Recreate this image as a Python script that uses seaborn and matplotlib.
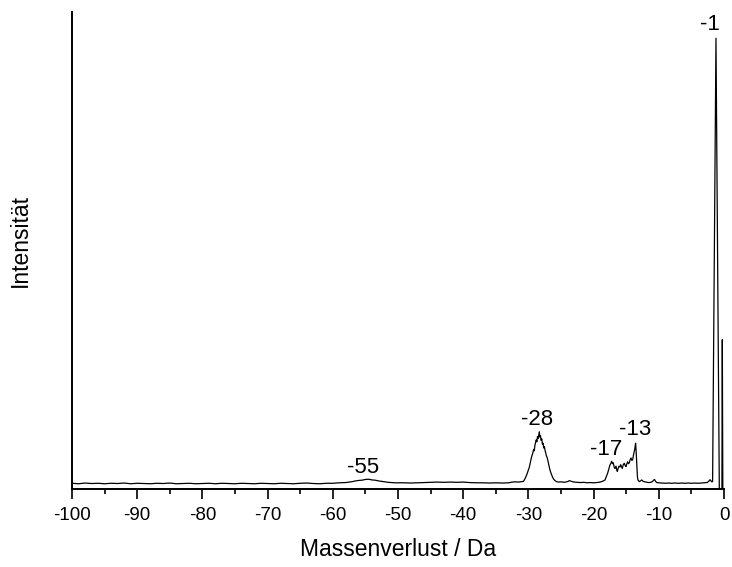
from matplotlib import pyplot as plt
from matplotlib.ticker import MultipleLocator
import pandas as pd
import seaborn as sns

# mass loss axis (Da) and intensity (arb. units)
mass_base1 = [-100, -99, -98, -97, -96, -95, -94, -93, -92, -91,
              -90, -89, -88, -87, -86, -85, -84, -83, -82, -81,
              -80, -79, -78, -77, -76, -75, -74, -73, -72, -71,
              -70, -69, -68, -67, -66, -65, -64, -63, -62, -61,
              -60, -59, -58]
int_base1 = [1.2, 1.1, 1.25, 1.15, 1.2, 1.1, 1.2, 1.15, 1.25, 1.1,
             1.2, 1.15, 1.1, 1.2, 1.15, 1.25, 1.1, 1.15, 1.2, 1.1,
             1.15, 1.2, 1.1, 1.2, 1.15, 1.1, 1.2, 1.15, 1.1, 1.2,
             1.15, 1.1, 1.2, 1.15, 1.1, 1.2, 1.25, 1.15, 1.1, 1.2,
             1.2, 1.3, 1.35]

mass_p55 = [-57.5, -57, -56.5, -56, -55.5, -55, -54.5, -54, -53.5, -53,
            -52.5, -52, -51.5, -51, -50.5, -50]
int_p55 = [1.45, 1.55, 1.7, 1.8, 1.85, 2.0, 2.05, 1.9, 1.85, 1.7,
           1.6, 1.5, 1.4, 1.35, 1.3, 1.3]

mass_base2 = [-49, -48, -47, -46, -45, -44, -43, -42, -41, -40,
              -39, -38, -37, -36, -35, -34, -33, -32.5, -32, -31.5, -31]
int_base2 = [1.3, 1.25, 1.3, 1.35, 1.4, 1.45, 1.4, 1.45, 1.4, 1.45,
             1.35, 1.3, 1.3, 1.25, 1.3, 1.25, 1.3, 1.45, 1.5, 1.45, 1.55]

mass_p28 = [-30.75, -30.5, -30.25, -30.0, -29.85, -29.7, -29.5, -29.35, -29.2, -29.1,
            -29.0, -28.9, -28.8, -28.7, -28.6, -28.5, -28.4, -28.33, -28.25, -28.15,
            -28.05, -27.95, -27.85, -27.75, -27.65, -27.55, -27.45, -27.35, -27.25, -27.1,
            -26.95, -26.8, -26.7, -26.5, -26.3, -26.1, -25.9, -25.7, -25.4, -25.0]
int_p28 = [1.6, 2.2, 3.0, 4.0, 4.6, 5.6, 6.8, 7.4, 8.3, 8.0,
           9.2, 9.8, 10.3, 9.9, 11.0, 10.6, 11.5, 12.0, 10.9, 11.2,
           10.2, 10.5, 9.4, 9.6, 8.6, 8.9, 8.1, 7.6, 7.0, 6.5,
           5.6, 4.7, 4.0, 3.2, 2.5, 2.0, 1.75, 1.55, 1.45, 1.5]

mass_base3 = [-24.5, -24.0, -23.7, -23.4, -23.0, -22.5, -22.0, -21.5, -21.0, -20.5,
              -20.0, -19.5, -19.0]
int_base3 = [1.4, 1.55, 1.75, 1.6, 1.45, 1.4, 1.35, 1.4, 1.3, 1.35,
             1.3, 1.35, 1.45]

mass_p17 = [-18.75, -18.5, -18.25, -18.05, -17.85, -17.65, -17.5, -17.35, -17.23, -17.1,
            -16.98, -16.85, -16.72, -16.56, -16.45, -16.36, -16.22, -16.1, -15.95, -15.85,
            -15.72, -15.6, -15.45, -15.29, -15.15, -15.03, -14.9, -14.78, -14.65, -14.52,
            -14.4, -14.26, -14.12, -14.0, -13.9, -13.8, -13.68, -13.56, -13.47, -13.38,
            -13.28, -13.2, -13.0, -12.8, -12.63, -12.4, -12.1, -11.8, -11.5, -11.2,
            -10.95, -10.8, -10.65, -10.5, -10.3, -10.0]
int_p17 = [1.55, 1.7, 1.9, 2.6, 3.3, 4.3, 5.0, 5.4, 5.8, 5.3,
           5.5, 4.6, 4.3, 4.8, 4.0, 3.7, 4.4, 4.8, 4.6, 5.1,
           4.7, 4.3, 5.1, 5.4, 4.9, 4.7, 5.3, 5.7, 5.3, 5.5,
           6.1, 6.5, 6.0, 6.2, 7.0, 7.6, 8.4, 9.6, 7.8, 5.2,
           2.6, 1.9, 1.55, 1.7, 1.9, 1.6, 1.5, 1.4, 1.35, 1.4,
           1.6, 1.85, 2.0, 1.6, 1.35, 1.3]

mass_base4 = [-9.5, -9.0, -8.5, -8.0, -7.5, -7.0, -6.5, -6.0, -5.5, -5.0,
              -4.5, -4.0, -3.5, -3.0, -2.6]
int_base4 = [1.25, 1.2, 1.25, 1.2, 1.25, 1.2, 1.25, 1.2, 1.25, 1.2,
             1.25, 1.2, 1.25, 1.3, 1.35]

mass_p1 = [-2.35, -2.15, -2.0, -1.85, -1.75, -1.23, -0.72, -0.32, -0.26, -0.18, -0.05]
int_p1 = [1.6, 1.95, 1.7, 1.5, 1.6, 94.5, 0.0, 0.0, 31.3, 0.0, 0.0]

peak_labels = ["-55", "-28", "-17", "-13", "-1"]
peak_label_x = [-55.3, -28.7, -18.1, -13.6, -2.2]
peak_label_y = [3.35, 13.4, 7.1, 11.3, 96.2]

df = pd.DataFrame({
    "mass": mass_base1 + mass_p55 + mass_base2 + mass_p28 + mass_base3
            + mass_p17 + mass_base4 + mass_p1,
    "intensity": int_base1 + int_p55 + int_base2 + int_p28 + int_base3
                 + int_p17 + int_base4 + int_p1,
})

sns.set_style("ticks")
plt.rcParams["font.family"] = ["Liberation Sans", "DejaVu Sans"]
plt.rcParams["axes.unicode_minus"] = False
plt.rcParams["text.color"] = "black"
plt.rcParams["axes.labelcolor"] = "black"
plt.rcParams["xtick.color"] = "black"
plt.rcParams["ytick.color"] = "black"

fig = plt.figure(figsize=(7.32, 5.67), dpi=100)
ax = fig.add_axes([72 / 732, 78 / 567, 652 / 732, 477 / 567])

sns.lineplot(data=df, x="mass", y="intensity", ax=ax, color="black",
             linewidth=0.9, estimator=None, sort=False)

for lbl, lx, ly in zip(peak_labels, peak_label_x, peak_label_y):
    ax.text(lx, ly, lbl, ha="center", va="baseline", fontsize=16, color="black")

ax.set_xlim(-100, 0)
ax.set_ylim(0, 100)
ax.xaxis.set_major_locator(MultipleLocator(10))
ax.xaxis.set_minor_locator(MultipleLocator(5))
ax.set_yticks([])
ax.tick_params(axis="x", which="major", direction="out", length=7.2,
               width=1.2, labelsize=13.5, pad=5.5, color="black", labelcolor="black")
ax.tick_params(axis="x", which="minor", direction="out", length=3.6,
               width=1.2, color="black")

sns.despine(ax=ax)
for side in ["left", "bottom"]:
    ax.spines[side].set_linewidth(1.4)
    ax.spines[side].set_color("black")

ax.set_xlabel("Massenverlust / Da", fontsize=16.5, color="black")
ax.set_ylabel("Intensität", fontsize=16.5, color="black")
ax.xaxis.set_label_coords(0.5, -0.103)
ax.yaxis.set_label_coords(-0.061, 0.521)

fig.savefig("out.png", dpi=100)
